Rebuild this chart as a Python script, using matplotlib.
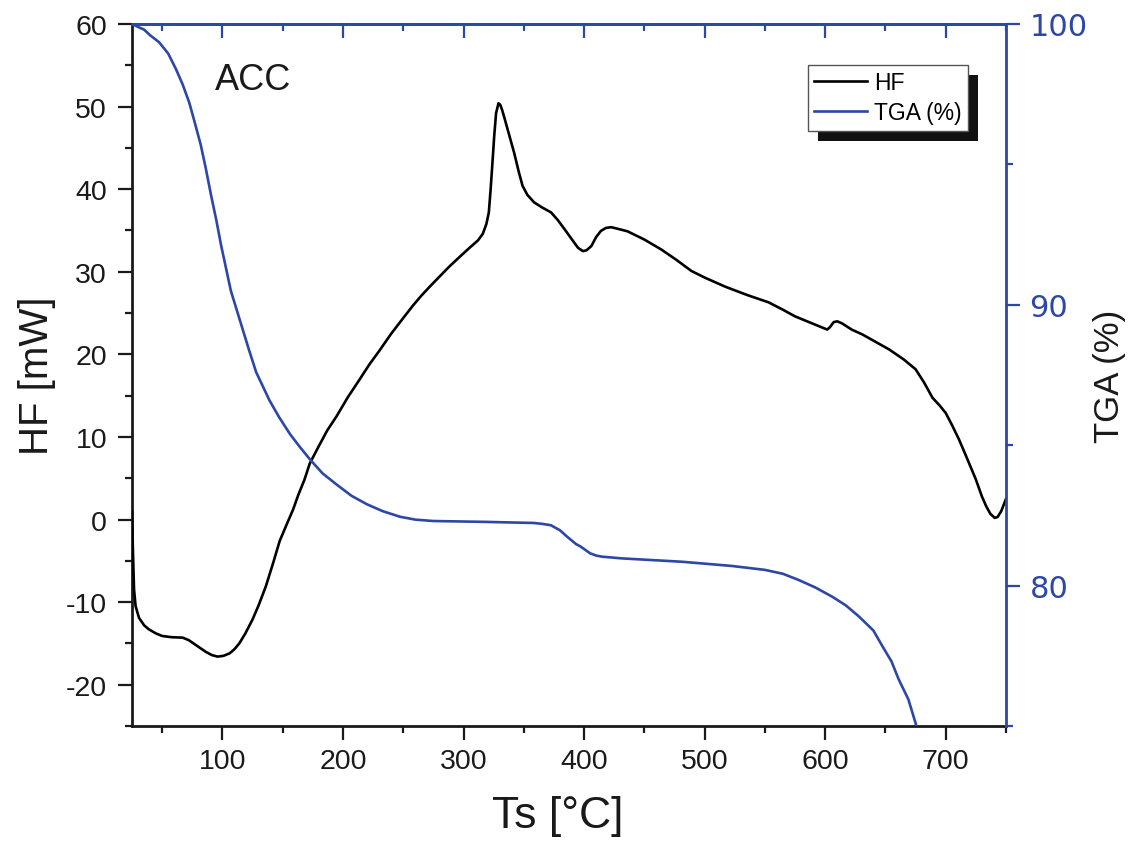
import matplotlib
matplotlib.use("Agg")
import matplotlib.pyplot as plt
from matplotlib.ticker import MultipleLocator
from matplotlib.patches import Rectangle

# ---- data ----
hf_temp = [25, 25.8, 26.7, 28, 30.8, 35, 39, 45, 50, 58, 67, 72, 78, 86, 91, 96,
           101, 106, 110, 114, 119, 125, 130, 136, 142, 147.5, 153, 158.6, 163,
           168, 172.5, 180, 187, 194.7, 204, 214, 222, 230, 240, 250, 258, 265,
           272, 278, 288, 297.5, 305, 312, 316, 319, 321, 322.5, 324, 325.5, 327,
           329, 330.5, 332, 334, 338, 342, 346, 349, 353, 358.6, 365, 372.5, 378,
           383.6, 390, 395, 399, 402, 406, 410, 414, 418, 422.5, 428, 436, 450,
           464, 476, 489, 500, 517, 535, 553, 565, 575, 590, 601.7, 604, 607,
           610, 614, 622, 631, 642, 653, 665, 675, 682, 689, 695, 700, 705, 711,
           718, 725, 730, 733.6, 737, 740.6, 743, 746, 750]
hf_vals = [1.0, -4.0, -8.5, -10.5, -11.9, -12.8, -13.3, -13.8, -14.1, -14.25,
           -14.3, -14.6, -15.2, -16.0, -16.4, -16.6, -16.5, -16.2, -15.7, -15.0,
           -13.8, -12.1, -10.4, -8.1, -5.3, -2.6, -0.7, 1.2, 3.0, 4.8, 6.8, 8.9,
           10.8, 12.5, 14.8, 17.0, 18.8, 20.4, 22.5, 24.4, 25.9, 27.1, 28.2, 29.1,
           30.6, 31.9, 32.9, 33.8, 34.6, 35.8, 37.2, 40.0, 43.2, 46.5, 49.2, 50.4,
           50.2, 49.6, 48.6, 46.5, 44.4, 42.0, 40.4, 39.3, 38.4, 37.8, 37.2, 36.3,
           35.2, 33.9, 32.9, 32.5, 32.6, 33.1, 34.2, 34.95, 35.3, 35.4, 35.2, 34.9,
           33.9, 32.7, 31.5, 30.1, 29.3, 28.2, 27.2, 26.3, 25.4, 24.6, 23.7, 23.0,
           23.3, 23.9, 24.0, 23.75, 23.0, 22.4, 21.5, 20.6, 19.4, 18.2, 16.6,
           14.75, 13.8, 12.9, 11.5, 9.7, 7.3, 4.85, 2.8, 1.6, 0.7, 0.2, 0.3, 1.0,
           2.5]

tga_temp = [25, 30.8, 35, 40, 47.5, 55, 61.4, 67, 72.5, 77, 82, 86, 90.6, 95, 99,
            103, 107, 112, 117, 122, 128, 139, 147, 156, 164, 172.5, 183, 194.7,
            207, 219.7, 233, 247.5, 260, 275, 317, 358.6, 365, 372.5, 380, 386,
            393.3, 397.5, 405, 410, 415, 431, 481, 522.5, 550, 565, 578, 592, 606,
            617, 628, 640, 647.5, 655, 661, 669, 675, 677]
tga_vals = [100.0, 99.88, 99.8, 99.6, 99.35, 98.95, 98.4, 97.85, 97.2, 96.5, 95.7,
            94.9, 93.9, 93.0, 92.1, 91.3, 90.5, 89.8, 89.1, 88.4, 87.6, 86.6, 86.0,
            85.4, 84.95, 84.5, 84.0, 83.6, 83.2, 82.9, 82.65, 82.45, 82.35, 82.3,
            82.27, 82.23, 82.2, 82.15, 81.97, 81.74, 81.48, 81.38, 81.15, 81.07,
            81.03, 80.97, 80.85, 80.7, 80.56, 80.42, 80.2, 79.93, 79.6, 79.3, 78.9,
            78.4, 77.84, 77.3, 76.66, 75.95, 75.1, 74.8]

x_ticks = [100, 200, 300, 400, 500, 600, 700]
hf_ticks = [-20, -10, 0, 10, 20, 30, 40, 50, 60]
tga_ticks = [80, 90, 100]

BLUE = "#2c47a6"
DARK = "#1a1a1a"
plt.rcParams['font.family'] = ['Liberation Sans', 'DejaVu Sans']
plt.rcParams['axes.unicode_minus'] = False

fig = plt.figure(figsize=(11.32, 8.45), dpi=100)
ax = fig.add_axes([132/1132, 1-727/845, (1006-132)/1132, (727-25)/845])
ax2 = ax.twinx()

ax.plot(hf_temp, hf_vals, color="black", lw=1.9, label="HF", zorder=3)
ln2, = ax2.plot(tga_temp, tga_vals, color=BLUE, lw=1.9, label="TGA (%)")

ax.set_xlim(25, 750)
ax.set_ylim(-25, 60)
ax2.set_ylim(75, 100)

ax.set_xticks(x_ticks)
ax.xaxis.set_minor_locator(MultipleLocator(50))
ax.set_yticks(hf_ticks)
ax.yaxis.set_minor_locator(MultipleLocator(5))
ax2.set_yticks(tga_ticks)
ax2.yaxis.set_minor_locator(MultipleLocator(5))

for s in ['top', 'right']:
    ax.spines[s].set_visible(False)
for s in ['left', 'bottom']:
    ax.spines[s].set_linewidth(2.0)
    ax.spines[s].set_color(DARK)
ax2.spines['left'].set_visible(False)
ax2.spines['bottom'].set_visible(False)
for s in ['top', 'right']:
    ax2.spines[s].set_color(BLUE)
    ax2.spines[s].set_linewidth(2.0)

ax.tick_params(axis='both', which='major', direction='out', length=10, width=1.6,
               labelsize=20.5)
ax.tick_params(axis='y', which='major', pad=8)
ax.tick_params(axis='x', which='major', pad=6)
ax.tick_params(axis='both', which='minor', direction='out', length=5, width=1.6)
ax.tick_params(axis='both', which='both', colors=DARK, labelcolor=DARK)
ax2.tick_params(axis='y', which='major', direction='out', length=10, width=1.6,
                colors=BLUE, labelsize=22, pad=7)
ax2.tick_params(axis='y', which='minor', direction='out', length=5, width=1.6,
                colors=BLUE)
for lab in ax2.get_yticklabels():
    lab.set_fontfamily('DejaVu Sans')

sec = ax.secondary_xaxis('top')
sec.set_xticks(x_ticks)
sec.xaxis.set_minor_locator(MultipleLocator(50))
sec.tick_params(axis='x', which='major', direction='in', length=10, width=1.6,
                colors=BLUE, labeltop=False)
sec.tick_params(axis='x', which='minor', direction='in', length=5, width=1.6,
                colors=BLUE)
sec.spines['top'].set_color(BLUE)
sec.spines['top'].set_linewidth(2.0)

ax.set_xlabel("Ts [°C]", fontsize=32, color=DARK)
ax.xaxis.set_label_coords(0.487, -0.098)
ax.set_ylabel("HF [mW]", fontsize=29, labelpad=7, color=DARK)
ax2.set_ylabel("TGA (%)", fontsize=25, color=DARK)
ax2.yaxis.set_label_coords(1.1, 0.5)

ax.text(0.095, 0.907, "ACC", transform=ax.transAxes, fontsize=26,
        color=DARK, va='baseline', ha='left')

h1, l1 = ax.get_legend_handles_labels()
leg = ax2.legend(h1 + [ln2], l1 + ["TGA (%)"], loc='upper left',
                 bbox_to_anchor=((808-132)/874, (727-66)/702),
                 fontsize=16.5, frameon=True, fancybox=False, handlelength=2.3,
                 handletextpad=0.3, borderpad=0.28, labelspacing=0.3,
                 borderaxespad=0, edgecolor='#555555', framealpha=1)
leg.get_frame().set_linewidth(1.0)
leg.set_zorder(10)

fig.canvas.draw()
bb = leg.get_window_extent()
inv = fig.transFigure.inverted()
(x0, y0), (x1, y1) = inv.transform([(bb.x0 + 10, bb.y0 - 10), (bb.x1 + 10, bb.y1 - 10)])
shadow = Rectangle((x0, y0), x1 - x0, y1 - y0, transform=fig.transFigure,
                   facecolor='#111111', edgecolor='none', zorder=9, clip_on=False)
ax2.add_patch(shadow)

fig.savefig("out.png", dpi=100)
